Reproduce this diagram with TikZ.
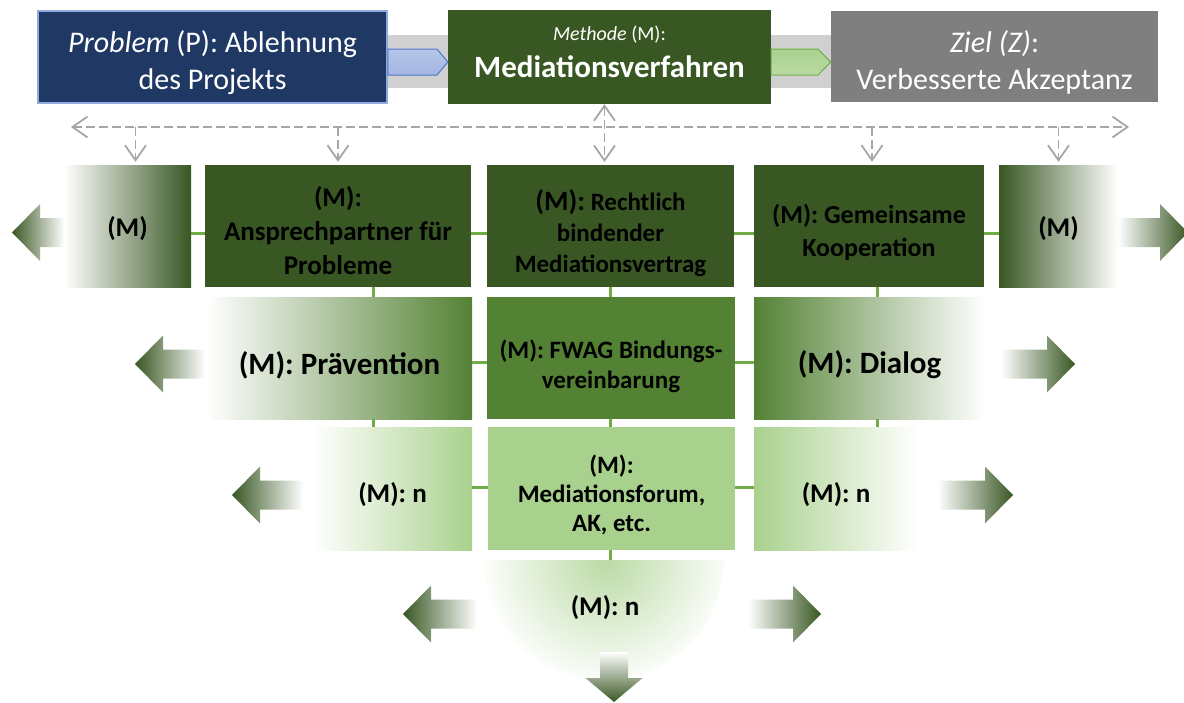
\documentclass[tikz,border=0pt]{standalone}
\usepackage{fontspec}
\setmainfont{Carlito}
\usetikzlibrary{arrows.meta,calc}
\definecolor{navy}{RGB}{32,56,100}
\definecolor{navyline}{RGB}{143,170,220}
\definecolor{dkgreen}{RGB}{56,87,35}
\definecolor{mdgreen}{RGB}{84,130,53}
\definecolor{ltgreen}{RGB}{169,209,142}
\definecolor{linkgreen}{RGB}{112,173,71}
\definecolor{zielgray}{RGB}{127,127,127}
\definecolor{bandgray}{RGB}{208,208,208}
\definecolor{dashgray}{RGB}{166,166,166}
\definecolor{chevblue}{RGB}{164,182,226}
\definecolor{chevline}{RGB}{78,120,200}
% strut on the first line, pushes the text block down by half of #1
\newcommand{\dn}[1]{\rule{0pt}{\dimexpr\fontcharht\font`\(+#1pt\relax}}
% fading arrows, tip point first, then the x of the tail
\newcommand{\fadeleft}[3]{%
  \shade[left color=dkgreen, right color=white]
    (#1,#2) -- (#1+28,#2-28.5) -- (#1+28,#2-14.5) -- (#3,#2-14.5)
    -- (#3,#2+14.5) -- (#1+28,#2+14.5) -- (#1+28,#2+28.5) -- cycle;}
\newcommand{\faderight}[3]{%
  \shade[left color=white, right color=dkgreen]
    (#1,#2) -- (#1-28,#2-28.5) -- (#1-28,#2-14.5) -- (#3,#2-14.5)
    -- (#3,#2+14.5) -- (#1-28,#2+14.5) -- (#1-28,#2+28.5) -- cycle;}
\tikzset{
  topbox/.style={rectangle, inner sep=0pt, align=center, text=white,
                 font=\fontsize{30}{37}\selectfont},
  mbox/.style={rectangle, inner sep=0pt, minimum height=122pt, align=center,
               font=\fontsize{27}{34}\selectfont\bfseries},
  link/.style={linkgreen, line width=3pt},
  hint/.style={dashgray, line width=1.8pt, dash pattern=on 9pt off 4pt},
  barb/.tip={Straight Barb[length=15pt,width=21pt]},
}

\begin{document}
\begin{tikzpicture}[x=1pt, y=-1pt]
  \useasboundingbox (0,0) rectangle (1184,702);
  % grey band and the two chevrons behind the top line
  \fill[bandgray] (387,35) rectangle (831,88);
  \node[topbox, fill=navy, draw=navyline, line width=1.5pt,
        minimum width=349pt, minimum height=92pt] (prob) at (212.5,57)
        {\dn{12}\textit{Problem} (P): Ablehnung\\des Projekts};
  \node[topbox, fill=dkgreen, minimum width=323pt, minimum height=94pt] (meth) at (609.5,57)
        {{\fontsize{20}{24}\selectfont\textit{Methode} (M):}\\[0pt]
         {\fontsize{31}{36}\selectfont\bfseries Mediationsverfahren\rule[-10pt]{0pt}{0pt}}};
  \node[topbox, fill=zielgray, minimum width=327pt, minimum height=91pt] (ziel) at (994.5,56.5)
        {\dn{12}\textit{Ziel (Z)}:\\Verbesserte Akzeptanz};
  \shade[top color=chevblue!80!white, bottom color=chevblue, draw=chevline, line width=1pt]
    (prob.east |- 0,49) -- (437,49) -- (meth.west |- 0,62) -- (437,75) -- (prob.east |- 0,75) -- cycle;
  \shade[top color=ltgreen, bottom color=ltgreen!80!white, draw=linkgreen, line width=1pt]
    (meth.east |- 0,49) -- (818,49) -- (ziel.west |- 0,62) -- (818,75) -- (meth.east |- 0,75) -- cycle;

  % first row
  \node[mbox, minimum width=127pt, left color=white, right color=dkgreen] (m1l) at (127.5,226)
        {\dn{6}(M)};
  \node[mbox, minimum width=266pt, fill=dkgreen] (a1) at (338,226)
        {\dn{10}(M):\\Ansprechpartner für\\Probleme};
  \node[mbox, minimum width=247pt, fill=dkgreen, font=\fontsize{25}{31}\selectfont\bfseries] (b1) at (610.5,226)
        {{\fontsize{28}{31}\selectfont\dn{14}(M):} Rechtlich\\bindender\\Mediationsvertrag};
  \node[mbox, minimum width=230pt, fill=dkgreen, font=\fontsize{26}{33}\selectfont\bfseries] (c1) at (869,226)
        {\dn{12}(M): Gemeinsame\\Kooperation};
  \node[mbox, minimum width=119pt, left color=dkgreen, right color=white] (m1r) at (1058.5,226)
        {\dn{6}(M)};

  % second row
  \node[mbox, minimum width=265pt, left color=white, right color=mdgreen,
        font=\fontsize{31}{36}\selectfont\bfseries] (a2) at (339.5,358) {\dn{14}(M): Prävention};
  \node[mbox, minimum width=248pt, fill=mdgreen, font=\fontsize{25}{30}\selectfont\bfseries] (b2) at (611,358)
        {\dn{16}(M): FWAG Bindungs-\\vereinbarung};
  \node[mbox, minimum width=231pt, left color=mdgreen, right color=white,
        font=\fontsize{31}{36}\selectfont\bfseries] (c2) at (869.5,358) {\dn{14}(M): Dialog};

  % third row
  \node[mbox, minimum width=159pt, minimum height=123pt, left color=white, right color=ltgreen] (a3) at (392.5,488.5)
        {\dn{12}(M): n};
  \node[mbox, minimum width=247pt, minimum height=123pt, fill=ltgreen,
        font=\fontsize{25}{29}\selectfont\bfseries] (b3) at (611.5,488.5)
        {\dn{12}(M):\\Mediationsforum,\\AK, etc.};
  \node[mbox, minimum width=164pt, minimum height=123pt, left color=ltgreen, right color=white] (c3) at (836,488.5)
        {\dn{12}(M): n};

  % open end at the bottom
  \begin{scope}
    \clip (484,560) arc[start angle=180, end angle=0, radius=120] -- cycle;
    \shade[inner color=ltgreen!80, outer color=white] (606,560) circle (128);
  \end{scope}
  \node[font=\fontsize{27}{33}\selectfont\bfseries] (d4) at (605,608) {(M): n};
  \coordinate (d4top) at (610,560);

  % green links between the boxes
  \coordinate (colA) at (373,0);
  \coordinate (colB) at (610,0);
  \coordinate (colC) at (877,0);
  \coordinate (rowA) at (0,233);
  \coordinate (rowB) at (0,362);
  \coordinate (rowC) at (0,487);
  \draw[link] (m1l.east |- rowA) -- (a1.west |- rowA);
  \draw[link] (a1.east |- rowA) -- (b1.west |- rowA);
  \draw[link] (b1.east |- rowA) -- (c1.west |- rowA);
  \draw[link] (c1.east |- rowA) -- (m1r.west |- rowA);
  \draw[link] (a2.east |- rowB) -- (b2.west |- rowB);
  \draw[link] (b2.east |- rowB) -- (c2.west |- rowB);
  \draw[link] (a3.east |- rowC) -- (b3.west |- rowC);
  \draw[link] (b3.east |- rowC) -- (c3.west |- rowC);
  \draw[link] (a1.south -| colA) -- (a2.north -| colA);
  \draw[link] (b1.south -| colB) -- (b2.north -| colB);
  \draw[link] (c1.south -| colC) -- (c2.north -| colC);
  \draw[link] (a2.south -| colA) -- (a3.north -| colA);
  \draw[link] (b2.south -| colB) -- (b3.north -| colB);
  \draw[link] (c2.south -| colC) -- (c3.north -| colC);
  \draw[link] (b3.south -| colB) -- (d4top);

  % dashed distribution line under the top row
  \coordinate (hub) at (0,127);
  \draw[hint, {barb}-{barb}] (71,127) -- (1129,127);
  \draw[hint, -{barb}] ([xshift=8pt]m1l.north |- hub) -- ([xshift=8pt,yshift=3pt]m1l.north);
  \draw[hint, -{barb}] (a1.north |- hub) -- ([yshift=3pt]a1.north);
  \draw[hint, {barb}-{barb}] ([xshift=-5pt]meth.south) -- ([xshift=-5pt]meth.south |- 0,162);
  \draw[hint, -{barb}] ([xshift=3pt]c1.north |- hub) -- ([xshift=3pt,yshift=3pt]c1.north);
  \draw[hint, -{barb}] (m1r.north |- hub) -- ([yshift=3pt]m1r.north);

  % fading arrows to the sides and downwards
  \fadeleft{12}{232.5}{64}
  \faderight{1188}{232.5}{1118}
  \fadeleft{135}{364}{205}
  \faderight{1075}{364}{1001}
  \fadeleft{232}{495}{303}
  \faderight{1013}{495}{938}
  \fadeleft{403}{614}{477}
  \faderight{821}{614}{748}
  \shade[top color=white, bottom color=dkgreen]
    (614,702) -- (585.5,678) -- (600,678) -- (600,652) -- (628,652) -- (628,678) -- (642.5,678) -- cycle;
\end{tikzpicture}
\end{document}
